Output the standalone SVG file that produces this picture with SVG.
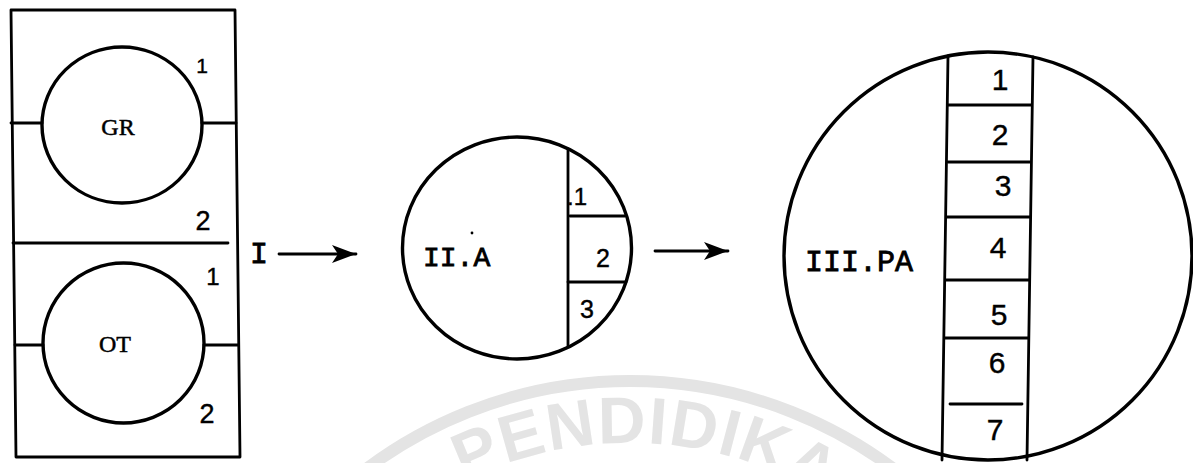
<svg xmlns="http://www.w3.org/2000/svg" width="1193" height="463" viewBox="0 0 1193 463">
<style>
.ln{fill:none;stroke:#000;stroke-width:2.8;stroke-linecap:round;stroke-linejoin:round}
.ci{fill:none;stroke:#000;stroke-width:3.4}
.num{font-family:"Liberation Sans",Arial,sans-serif;fill:#000;stroke:#000;stroke-width:0.4;text-anchor:middle}
.tw{font-family:"Liberation Mono","Courier New",monospace;fill:#000;stroke:#000;stroke-width:0.8}
.sf{font-family:"Liberation Serif","Times New Roman",serif;fill:#000;stroke:#000;stroke-width:0.5;text-anchor:middle}
.wm{fill:none;stroke:#e4e4e4;stroke-width:12}
.wmt{font-family:"Liberation Sans",Arial,sans-serif;fill:#e4e4e4;font-size:66px;font-weight:bold}
.dot{fill:#000}
</style>
<defs>
<marker id="ah" markerUnits="userSpaceOnUse" markerWidth="26" markerHeight="20" refX="24" refY="9" orient="auto">
<path d="M0,0 L24,9 L0,18 L6,9 Z" fill="#000"/>
</marker>
<path id="wmarc" d="M253,820 A377,377 0 0 1 1007,820"/>
</defs>

<g id="watermark">
<circle class="wm" cx="630" cy="820" r="439"/>
<text class="wmt" letter-spacing="1.5"><textPath href="#wmarc" startOffset="420">PENDIDIKA</textPath></text>
</g>

<g id="node-I">
<path class="ln" d="M11,10 L235,10 L240,457 L16,457 Z"/>
<line class="ln" x1="13" y1="243" x2="228" y2="243"/>
<g id="node-GR">
<ellipse class="ci" cx="122" cy="125" rx="80" ry="78"/>
<line class="ln" x1="11" y1="123" x2="42" y2="123"/>
<line class="ln" x1="202" y1="123" x2="236" y2="123"/>
<text class="sf" x="118" y="135" font-size="24">GR</text>
<text class="num" x="202" y="73" font-size="21">1</text>
<text class="num" x="203" y="230" font-size="27">2</text>
</g>
<g id="node-OT">
<ellipse class="ci" cx="123.5" cy="343" rx="80.5" ry="80"/>
<line class="ln" x1="15" y1="345" x2="43" y2="345"/>
<line class="ln" x1="204" y1="345" x2="238" y2="345"/>
<text class="sf" x="115" y="352" font-size="24">OT</text>
<text class="num" x="213" y="285" font-size="24">1</text>
<text class="num" x="207" y="423" font-size="27">2</text>
</g>
<text class="tw" x="259" y="263" font-size="30" text-anchor="middle">I</text>
</g>

<g id="node-IIA">
<ellipse class="ci" cx="517" cy="248" rx="114.5" ry="111"/>
<line class="ln" x1="568" y1="149" x2="568" y2="346"/>
<line class="ln" x1="570" y1="216" x2="625" y2="216"/>
<line class="ln" x1="568" y1="282" x2="626" y2="282"/>
<text class="tw" x="423" y="266" font-size="28">II.A</text>
<text class="num" x="577" y="205" font-size="24" text-anchor="start">.1</text>
<text class="num" x="603" y="267" font-size="25">2</text>
<text class="num" x="587" y="318" font-size="25">3</text>
<circle class="dot" cx="472" cy="233" r="1.4"/>
</g>

<g id="node-IIIPA">
<circle class="ci" cx="988" cy="256" r="204"/>
<line class="ln" x1="948" y1="56" x2="942" y2="460"/>
<line class="ln" x1="1033" y1="57" x2="1027" y2="460"/>
<line class="ln" x1="948" y1="105" x2="1031" y2="105"/>
<line class="ln" x1="948" y1="162" x2="1030" y2="162"/>
<line class="ln" x1="947" y1="217" x2="1030" y2="217"/>
<line class="ln" x1="946" y1="280" x2="1029" y2="280"/>
<line class="ln" x1="945" y1="338" x2="1028" y2="338"/>
<line class="ln" x1="950" y1="404" x2="1022" y2="404"/>
<text class="tw" x="805" y="271" font-size="30">III.PA</text>
<text class="num" x="1000" y="90" font-size="30">1</text>
<text class="num" x="1000" y="145" font-size="30">2</text>
<text class="num" x="1003" y="196" font-size="30">3</text>
<text class="num" x="998" y="258" font-size="30">4</text>
<text class="num" x="999" y="325" font-size="30">5</text>
<text class="num" x="997" y="373" font-size="30">6</text>
<text class="num" x="995" y="440" font-size="30">7</text>
</g>

<g id="connectors">
<line class="ln" x1="279" y1="254" x2="356" y2="254" marker-end="url(#ah)"/>
<line class="ln" x1="655" y1="251" x2="728" y2="251" marker-end="url(#ah)"/>
</g>
</svg>
